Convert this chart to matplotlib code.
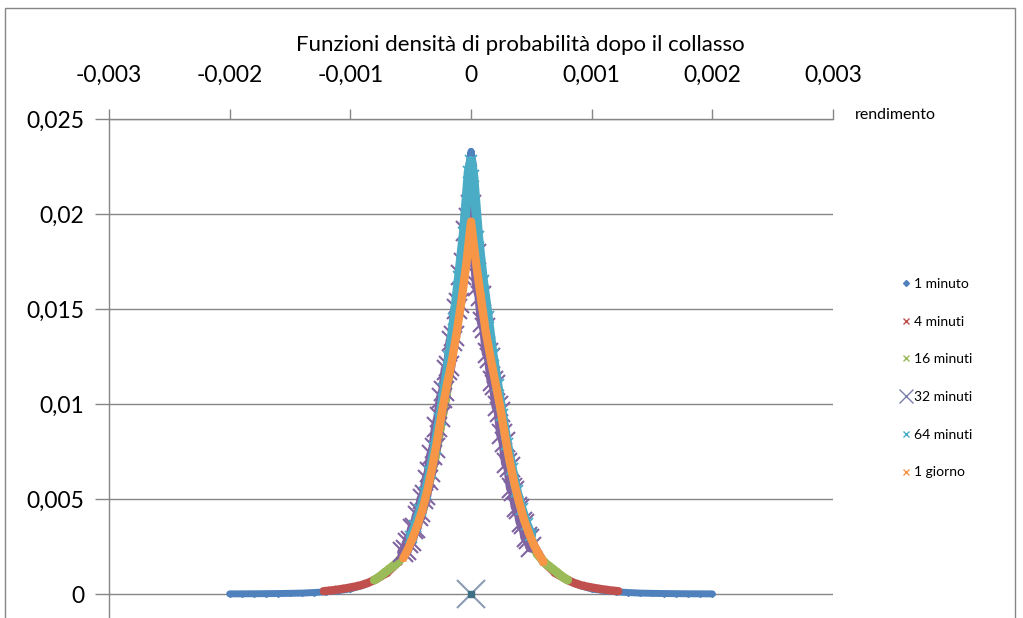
import matplotlib
matplotlib.use("Agg")
import matplotlib.pyplot as plt
from matplotlib.lines import Line2D
from matplotlib.patches import Rectangle

# rendimento (x) e densità (y)
x_1min = [-0.002, -0.0019, -0.0018, -0.0017, -0.0016, -0.0015, -0.0014, -0.0013, -0.0012, -0.0011,
          -0.001, -0.0009, -0.0008, -0.0007, -0.0006, -0.0005, -0.0004, -0.0003, -0.0002, -0.0001,
          -0.00005, -0.00002, 0.0, 0.00002, 0.00005, 0.0001, 0.0002, 0.0003, 0.0004, 0.0005,
          0.0006, 0.0007, 0.0008, 0.0009, 0.001, 0.0011, 0.0012, 0.0013, 0.0014, 0.0015,
          0.0016, 0.0017, 0.0018, 0.0019, 0.002]
y_1min = [0.00001, 0.000012, 0.000015, 0.00002, 0.000027, 0.000037, 0.00005, 0.00008, 0.00012, 0.00018,
          0.00027, 0.00045, 0.00072, 0.0011, 0.0017, 0.0028, 0.0044, 0.0072, 0.0108, 0.0155,
          0.019, 0.0225, 0.0233, 0.0226, 0.0191, 0.0156, 0.0109, 0.0073, 0.0045, 0.0028,
          0.0017, 0.0011, 0.00072, 0.00045, 0.00027, 0.00018, 0.00012, 0.00008, 0.00005, 0.000037,
          0.000027, 0.00002, 0.000015, 0.000012, 0.00001]

x_4min = [-0.00122, -0.00116, -0.0011, -0.00104, -0.00098, -0.00092, -0.00086, -0.0008, -0.0007, -0.0006,
          -0.0005, -0.0004, -0.0003, -0.0002, -0.0001, 0.0, 0.0001, 0.0002, 0.0003, 0.0004,
          0.0005, 0.0006, 0.0007, 0.0008, 0.00086, 0.00092, 0.00098, 0.00104, 0.0011, 0.00116, 0.00122]
y_4min = [0.00015, 0.00019, 0.00024, 0.0003, 0.00037, 0.00045, 0.00057, 0.00074, 0.0011, 0.0017,
          0.0028, 0.0044, 0.0071, 0.0106, 0.0152, 0.0195, 0.0153, 0.0107, 0.0072, 0.0045,
          0.0028, 0.0017, 0.0011, 0.00074, 0.00057, 0.00045, 0.00037, 0.0003, 0.00024, 0.00019, 0.00015]

x_16min = [-0.0008, -0.00077, -0.00074, -0.00071, -0.00068, -0.00065, -0.00062, -0.00059, -0.00055, -0.0005,
           -0.0004, -0.0003, -0.0002, -0.0001, 0.0, 0.0001, 0.0002, 0.0003, 0.0004, 0.0005,
           0.00055, 0.00059, 0.00062, 0.00065, 0.00068, 0.00071, 0.00074, 0.00077, 0.0008]
y_16min = [0.00074, 0.00086, 0.001, 0.00115, 0.0013, 0.00145, 0.0016, 0.0018, 0.0021, 0.0027,
           0.0044, 0.0071, 0.0107, 0.0153, 0.0197, 0.0154, 0.0108, 0.0072, 0.0045, 0.0027,
           0.0021, 0.0018, 0.0016, 0.00145, 0.0013, 0.00115, 0.001, 0.00086, 0.00074]

x_32min = [-0.00056, -0.00054, -0.00052, -0.0005, -0.00048, -0.00046, -0.00044, -0.00042, -0.0004, -0.00038,
           -0.00036, -0.00034, -0.00032, -0.0003, -0.00028, -0.00026, -0.00024, -0.00022, -0.0002, -0.00018,
           -0.00016, -0.00014, -0.00012, -0.0001, -0.00008, -0.00006, -0.00004, -0.00002, 0.0, 0.00002,
           0.00004, 0.00006, 0.00008, 0.0001, 0.00012, 0.00014, 0.00016, 0.00018, 0.0002, 0.00022,
           0.00024, 0.00026, 0.00028, 0.0003, 0.00032, 0.00034, 0.00036, 0.00038, 0.0004, 0.00042,
           0.00044, 0.00046, 0.00048, 0.0005]
y_32min = [0.0022, 0.0023, 0.0027, 0.0028, 0.0034, 0.0035, 0.0041, 0.0043, 0.0050, 0.0052,
           0.0060, 0.0064, 0.0073, 0.0077, 0.0088, 0.0093, 0.0103, 0.0107, 0.0118, 0.0120,
           0.0133, 0.0136, 0.0150, 0.0153, 0.0168, 0.0174, 0.0191, 0.0198, 0.0205, 0.0186,
           0.0179, 0.0162, 0.0157, 0.0143, 0.0140, 0.0127, 0.0124, 0.0112, 0.0110, 0.0099,
           0.0096, 0.0084, 0.0080, 0.0069, 0.0067, 0.0056, 0.0054, 0.0046, 0.0045, 0.0038,
           0.0037, 0.0030, 0.0029, 0.0025]

x_64min = [-0.0005, -0.00046, -0.00042, -0.00038, -0.00034, -0.0003, -0.00026, -0.00022, -0.00018, -0.00014,
           -0.0001, -0.00006, -0.00002, 0.0, 0.00002, 0.00006, 0.0001, 0.00014, 0.00018, 0.00022,
           0.00026, 0.0003, 0.00034, 0.00038, 0.00042, 0.00046, 0.0005]
y_64min = [0.0030, 0.0036, 0.0044, 0.0053, 0.0064, 0.0077, 0.0092, 0.0108, 0.0125, 0.0145,
           0.0167, 0.0190, 0.0222, 0.0228, 0.0220, 0.0188, 0.0165, 0.0146, 0.0126, 0.0110,
           0.0094, 0.0079, 0.0066, 0.0054, 0.0045, 0.0037, 0.0031]

x_1g = [-0.00056, -0.00052, -0.00048, -0.00044, -0.0004, -0.00036, -0.00032, -0.00028, -0.00024, -0.0002,
        -0.00016, -0.00012, -0.00008, -0.00004, 0.0, 0.00004, 0.00008, 0.00012, 0.00016, 0.0002,
        0.00024, 0.00028, 0.00032, 0.00036, 0.0004, 0.00044, 0.00048, 0.00052, 0.00056, 0.0006]
y_1g = [0.0019, 0.0024, 0.0030, 0.0037, 0.0045, 0.0055, 0.0067, 0.0081, 0.0096, 0.0110,
        0.0122, 0.0137, 0.0154, 0.0173, 0.0196, 0.0175, 0.0157, 0.0139, 0.0125, 0.0112,
        0.0099, 0.0084, 0.0070, 0.0058, 0.0048, 0.0039, 0.0032, 0.0026, 0.0021, 0.0017]

# punto isolato nell'origine
x_origin = [0.0]
y_origin = [0.0]

series_labels = ["1 minuto", "4 minuti", "16 minuti", "32 minuti", "64 minuti", "1 giorno"]
x_ticks = [-0.003, -0.002, -0.001, 0.0, 0.001, 0.002, 0.003]
x_tick_labels = ["-0,003", "-0,002", "-0,001", "0", "0,001", "0,002", "0,003"]
y_ticks = [0.0, 0.005, 0.01, 0.015, 0.02, 0.025]
y_tick_labels = ["0", "0,005", "0,01", "0,015", "0,02", "0,025"]

BLUE, RED, GREEN = "#4F81BD", "#C0504D", "#9BBB59"
PURPLE, TEAL, ORANGE = "#8064A2", "#4BACC6", "#F79646"
GRID = "#868686"

plt.rcParams["font.family"] = ["Lato", "DejaVu Sans"]

fig = plt.figure(figsize=(10.23, 6.18), dpi=100)
fig.patches.append(Rectangle((5 / 1023, -0.1), 1010 / 1023, 1.1 - 8 / 618,
                             transform=fig.transFigure, fill=False,
                             edgecolor=GRID, lw=1))
ax = fig.add_axes([109 / 1023, 0.0, 724 / 1023, 499 / 618])

ax.plot(x_1min, y_1min, color=BLUE, lw=5, marker="D", ms=3,
        solid_capstyle="round", zorder=3)
ax.plot(x_4min, y_4min, color=RED, lw=6, marker="x", ms=5, mew=1.2,
        solid_capstyle="round", zorder=4)
ax.plot(x_16min, y_16min, color=GREEN, lw=6.5, marker="x", ms=5, mew=1.2,
        solid_capstyle="round", zorder=5)
ax.plot(x_32min, y_32min, color=PURPLE, lw=9, marker="x", ms=14, mew=1.5,
        solid_capstyle="round", zorder=6)
ax.plot(x_64min, y_64min, color=TEAL, lw=7, marker="x", ms=8, mew=1.3,
        solid_capstyle="round", zorder=7)
ax.plot(x_1g, y_1g, color=ORANGE, lw=6, marker="x", ms=4, mew=1,
        solid_capstyle="round", zorder=8)
ax.plot(x_origin, y_origin, ls="none", marker="x", ms=20, mew=1.5,
        color="#8A9BB2", zorder=9)
ax.plot(x_origin, y_origin, ls="none", marker="s", ms=4,
        color="#3F6F84", zorder=10)

ax.set_xlim(-0.003, 0.003)
ax.set_ylim(-24 * 0.025 / 476, 0.025)

ax.xaxis.tick_top()
ax.set_xticks(x_ticks)
ax.set_xticklabels(x_tick_labels, fontsize=16.5)
ax.set_yticks(y_ticks)
ax.set_yticklabels(y_tick_labels, fontsize=16.5)
ax.tick_params(axis="x", direction="out", length=7, width=1, color=GRID, pad=17)
ax.tick_params(axis="y", direction="out", length=10, width=1, color=GRID, pad=8)

for y in y_ticks:
    ax.axhline(y, xmin=0, xmax=1, color=GRID, lw=1, zorder=1)
for side in ["bottom", "right"]:
    ax.spines[side].set_visible(False)
for side in ["top", "left"]:
    ax.spines[side].set_color(GRID)
    ax.spines[side].set_linewidth(1)

fig.text(520 / 1023, 1 - 45 / 618, "Funzioni densità di probabilità dopo il collasso",
         ha="center", va="center", fontsize=16)
fig.text(855 / 1023, 1 - 115 / 618, "rendimento", ha="left", va="center", fontsize=11.5)

handles = [
    Line2D([], [], ls="none", marker="D", ms=3, color=BLUE),
    Line2D([], [], ls="none", marker="x", ms=4, mew=1, color=RED),
    Line2D([], [], ls="none", marker="x", ms=4, mew=1, color=GREEN),
    Line2D([], [], ls="none", marker="x", ms=10, mew=1, color="#7A7FA8"),
    Line2D([], [], ls="none", marker="x", ms=4, mew=1, color=TEAL),
    Line2D([], [], ls="none", marker="x", ms=4, mew=1, color=ORANGE),
]
fig.legend(handles, series_labels, loc="upper left", bbox_to_anchor=(893 / 1023, 1 - 271 / 618),
           frameon=False, borderpad=0, handlelength=0.8, handletextpad=0.2,
           labelspacing=1.85, fontsize=10)

fig.savefig("out.png", dpi=100)
